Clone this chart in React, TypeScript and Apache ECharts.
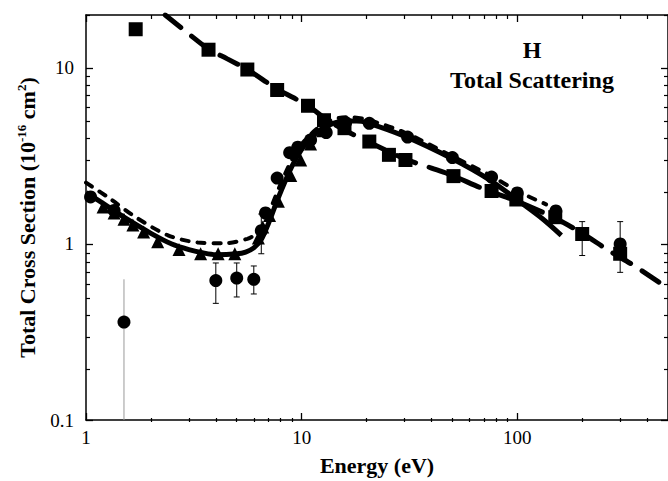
import React, { useEffect, useRef } from "react";
import * as echarts from "echarts";

// ---- data (Energy eV, cross section 1e-16 cm^2) ----
const squareData = [
  [1.7, 16.6], [3.7, 12.7], [5.6, 9.8], [7.7, 7.5], [10.7, 6.1], [12.7, 5.05],
  [15.8, 4.55], [20.6, 3.82], [25.4, 3.21], [30.3, 3.0], [50.6, 2.43], [76, 2.0],
  [99, 1.79], [150, 1.42], [200, 1.14], [300, 0.88],
];
const circleData = [
  [1.05, 1.85], [1.35, 1.55], [1.5, 0.36], [4, 0.62], [5, 0.64], [6, 0.63],
  [6.5, 1.19], [6.8, 1.5], [7.7, 2.37], [8.8, 3.3], [9.6, 3.55], [11, 3.9],
  [13, 4.3], [16, 4.9], [20.6, 4.85], [31, 4.05], [50, 3.1], [76, 2.4],
  [100, 1.95], [151, 1.54], [300, 1.0],
];
const triangleData = [
  [1.2, 1.62], [1.35, 1.5], [1.5, 1.38], [1.65, 1.28], [1.85, 1.17], [2.15, 1.03],
  [2.7, 0.93], [3.4, 0.88], [4.1, 0.88], [4.9, 0.88], [6.3, 1.08], [6.6, 1.25],
  [7.1, 1.45], [7.8, 1.75], [8.9, 2.45], [9.9, 3.0], [11, 3.7], [12.5, 4.4],
];
// [energy, low, high]
const errorBars = [
  [1.5, 0.1, 0.63], [4, 0.46, 0.78], [5, 0.5, 0.78], [6, 0.52, 0.75],
  [6.5, 0.88, 1.48], [200, 0.86, 1.34], [300, 0.69, 1.34],
];
const solidCurve = [
  [1, 1.96], [1.2, 1.7], [1.5, 1.42], [2, 1.15], [2.5, 1.0], [3, 0.93], [3.5, 0.89],
  [4, 0.87], [5, 0.88], [5.5, 0.9], [6, 0.95], [6.5, 1.06], [7, 1.3], [7.5, 1.62],
  [8, 1.98], [9, 2.75], [10, 3.45], [11, 3.95], [12, 4.4], [14, 4.85], [16, 5.0],
  [18, 5.0], [20, 4.9], [30, 4.1], [50, 3.05], [75, 2.3], [100, 1.78], [130, 1.4],
  [160, 1.12],
];
const shortDashCurve = [
  [1, 2.23], [1.3, 1.8], [1.7, 1.42], [2.4, 1.12], [3.3, 1.02], [4.4, 1.01],
  [5.6, 1.07], [6.2, 1.15], [6.7, 1.3], [7.2, 1.6], [8, 2.2], [9, 3.0], [10, 3.7],
  [12, 4.6], [14, 5.1], [16.4, 5.25], [20, 5.1], [30, 4.3], [50, 3.15], [75, 2.45],
  [100, 2.0], [136, 1.68],
];
const longDashCurve = [
  [2.33, 20], [3, 15.6], [3.7, 12.8], [4.5, 11.3], [5.6, 9.8], [7.7, 7.6],
  [10.7, 6.1], [13, 5.1], [16, 4.4], [20, 3.85], [30, 3.05], [40, 2.7], [50, 2.45],
  [70, 2.05], [100, 1.75], [150, 1.4], [200, 1.15], [265, 0.92], [350, 0.75],
  [500, 0.56],
];
const xMajor = [1, 10, 100];
const xMinor = [2, 3, 4, 5, 6, 7, 8, 9, 20, 30, 40, 50, 60, 70, 80, 90, 200, 300, 400];
const yMajor = [0.1, 1, 10];
const yMinor = [0.2, 0.3, 0.4, 0.5, 0.6, 0.7, 0.8, 0.9, 2, 3, 4, 5, 6, 7, 8, 9, 20];

const SERIF = "Liberation Serif";
const fmt = (v: number) => String(Math.round(v * 1000) / 1000);

export default function App() {
  const ref = useRef<HTMLDivElement>(null);
  useEffect(() => {
    if (!ref.current) return;
    const chart = echarts.init(ref.current, null, { renderer: "svg" });
    const grid = { left: 86, right: -5, top: 15, bottom: 59 };
    const xBase = { type: "log", logBase: 10, min: 1, max: 500, splitLine: { show: false } };
    const yBase = { type: "log", logBase: 10, min: 0.1, max: 20, splitLine: { show: false } };
    const axisLine = { show: true, lineStyle: { color: "#000", width: 1.5 } };
    const majorTick = (vals: number[]) => ({
      show: true, inside: true, length: 7, customValues: vals,
      lineStyle: { color: "#000", width: 1.3 },
    });
    const minorTick = (vals: number[]) => ({
      show: true, inside: true, length: 4, customValues: vals,
      lineStyle: { color: "#000", width: 1.2 },
    });
    const labelStyle = { color: "#000", fontFamily: SERIF, fontSize: 19 };
    const mark = { color: "#000", opacity: 1 };

    const option: any = {
      animation: false,
      backgroundColor: "#fff",
      grid: [grid, grid],
      xAxis: [
        {
          ...xBase, gridIndex: 0, position: "bottom", axisLine, axisTick: majorTick(xMajor),
          axisLabel: { ...labelStyle, margin: 8, customValues: xMajor, formatter: fmt },
          name: "Energy (eV)", nameLocation: "middle", nameGap: 34,
          nameTextStyle: { color: "#000", fontFamily: SERIF, fontWeight: "bold", fontSize: 22 },
        },
        { ...xBase, gridIndex: 0, position: "top", axisLine, axisTick: majorTick(xMajor), axisLabel: { show: false } },
        { ...xBase, gridIndex: 1, position: "bottom", axisLine: { show: false }, axisTick: minorTick(xMinor), axisLabel: { show: false } },
        { ...xBase, gridIndex: 1, position: "top", axisLine: { show: false }, axisTick: minorTick(xMinor), axisLabel: { show: false } },
      ],
      yAxis: [
        {
          ...yBase, gridIndex: 0, position: "left", axisLine, axisTick: majorTick(yMajor),
          axisLabel: { ...labelStyle, margin: 12, customValues: yMajor, formatter: fmt },
          name: "Total Cross Section (10{sup|-16} cm{sup|2})", nameLocation: "middle", nameGap: 44,
          nameTextStyle: {
            color: "#000", fontFamily: SERIF, fontWeight: "bold", fontSize: 22, lineHeight: 24,
            rich: { sup: { fontFamily: SERIF, fontWeight: "bold", fontSize: 13, lineHeight: 13, verticalAlign: "top", color: "#000" } },
          },
        },
        { ...yBase, gridIndex: 0, position: "right", axisLine, axisTick: majorTick(yMajor), axisLabel: { show: false } },
        { ...yBase, gridIndex: 1, position: "left", axisLine: { show: false }, axisTick: minorTick(yMinor), axisLabel: { show: false } },
        { ...yBase, gridIndex: 1, position: "right", axisLine: { show: false }, axisTick: minorTick(yMinor), axisLabel: { show: false } },
      ],
      graphic: [
        {
          type: "text", x: 532, y: 35, z: 100,
          style: {
            text: "H\nTotal Scattering", align: "center", verticalAlign: "top",
            font: `bold 24px ${SERIF}`, lineHeight: 30, fill: "#000",
          },
        },
      ],
      series: [
        {
          type: "custom", xAxisIndex: 0, yAxisIndex: 0, data: errorBars, z: 1,
          encode: { x: 0, y: [1, 2] },
          renderItem: (params: any, api: any) => {
            const e = api.value(0), lo = api.value(1), hi = api.value(2);
            const p1 = api.coord([e, lo]);
            const p2 = api.coord([e, hi]);
            const gray = params.dataIndex === 0;
            const color = gray ? "#999" : "#000";
            const w = 3;
            const children: any[] = [
              { type: "line", shape: { x1: p1[0], y1: p1[1], x2: p2[0], y2: p2[1] }, style: { stroke: color, lineWidth: 1 } },
            ];
            if (!gray) {
              children.push(
                { type: "line", shape: { x1: p1[0] - w, y1: p1[1], x2: p1[0] + w, y2: p1[1] }, style: { stroke: color, lineWidth: 1 } },
                { type: "line", shape: { x1: p2[0] - w, y1: p2[1], x2: p2[0] + w, y2: p2[1] }, style: { stroke: color, lineWidth: 1 } },
              );
            }
            return { type: "group", children };
          },
        },
        {
          type: "line", data: longDashCurve, symbol: "none", smooth: 0.3, z: 2,
          lineStyle: { color: "#000", width: 5, type: [20, 14], cap: "round", opacity: 1 },
        },
        {
          type: "line", data: shortDashCurve, symbol: "none", smooth: 0.3, z: 2,
          lineStyle: { color: "#000", width: 4, type: [7, 9], cap: "round", opacity: 1 },
        },
        {
          type: "line", data: solidCurve, symbol: "none", smooth: 0.3, z: 2,
          lineStyle: { color: "#000", width: 5, opacity: 1 },
        },
        { type: "scatter", data: squareData, symbol: "rect", symbolSize: 14, itemStyle: mark, z: 3 },
        { type: "scatter", data: circleData, symbol: "circle", symbolSize: 13, itemStyle: mark, z: 3 },
        { type: "scatter", data: triangleData, symbol: "triangle", symbolSize: 13, itemStyle: mark, z: 3 },
      ],
    };
    chart.setOption(option);
    return () => chart.dispose();
  }, []);
  return <div ref={ref} style={{ position: "fixed", left: 0, top: 0, width: 668, height: 481, background: "#fff" }} />;
}
